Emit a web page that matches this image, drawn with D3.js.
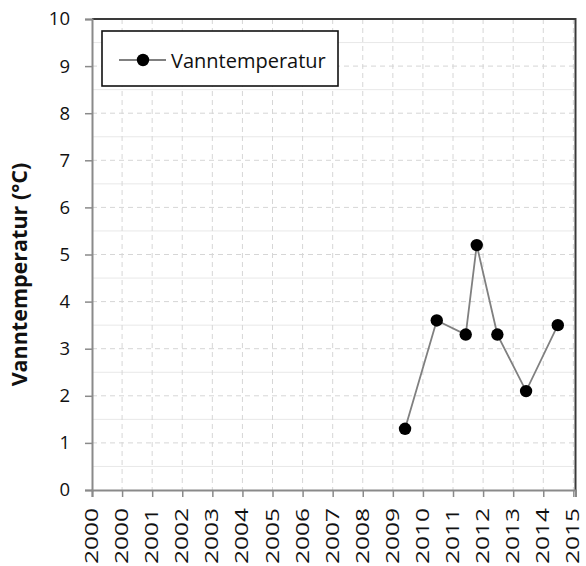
<!DOCTYPE html>
<html>
<head>
<meta charset="utf-8">
<script src="https://cdn.jsdelivr.net/npm/d3@7"></script>
<style>
  html, body { margin: 0; padding: 0; background: #fff; }
  svg { display: block; font-family: "Open Sans", "Liberation Sans", sans-serif; }
</style>
</head>
<body>
<svg id="chart" width="586" height="566"></svg>
<script>
// ---- data ----
const seriesName = "Vanntemperatur";
const yTitle = "Vanntemperatur (°C)";
const sampleDates = ["2009-12-21", "2010-12-25", "2011-11-27", "2012-04-03", "2012-11-29", "2013-10-29", "2014-11-02"];
const temperatures = [1.3, 3.6, 3.3, 5.2, 3.3, 2.1, 3.5];
const xTickLabels = ["2000", "2000", "2001", "2002", "2003", "2004", "2005", "2006", "2007", "2008", "2009", "2010", "2011", "2012", "2013", "2014", "2015"];
const yTicks = [0, 1, 2, 3, 4, 5, 6, 7, 8, 9, 10];
const yMinor = [0.5, 1.5, 2.5, 3.5, 4.5, 5.5, 6.5, 7.5, 8.5, 9.5];
const axisStart = "2000-01-01";
const tickStepDays = 350;
const axisSpanDays = 5625;

// ---- layout ----
const pL = 92, pR = 575.5, pT = 19, pB = 490;
const parse = d3.utcParse("%Y-%m-%d");
const t0 = parse(axisStart);
const t1 = d3.utcDay.offset(t0, axisSpanDays);
const x = d3.scaleUtc().domain([t0, t1]).range([pL, pR]);
const y = d3.scaleLinear().domain([0, 10]).range([pB, pT]);
const xTickDates = xTickLabels.map((_, i) => d3.utcDay.offset(t0, i * tickStepDays));

const svg = d3.select("#chart");

// grid
const grid = svg.append("g");
grid.selectAll("line.minor").data(yMinor).join("line")
  .attr("x1", pL).attr("x2", pR)
  .attr("y1", d => y(d)).attr("y2", d => y(d))
  .attr("stroke", "#e8e8e8").attr("stroke-width", 1);
grid.selectAll("line.hmaj").data(yTicks.slice(1)).join("line")
  .attr("x1", pL).attr("x2", pR)
  .attr("y1", d => y(d)).attr("y2", d => y(d))
  .attr("stroke", "#d6d6d6").attr("stroke-width", 1).attr("stroke-dasharray", "5,4");
grid.selectAll("line.vmaj").data(xTickDates.slice(1)).join("line")
  .attr("x1", d => x(d)).attr("x2", d => x(d))
  .attr("y1", pT).attr("y2", pB)
  .attr("stroke", "#d6d6d6").attr("stroke-width", 1).attr("stroke-dasharray", "5,4");

// plot border (top/right)
svg.append("path")
  .attr("d", `M${pL},${pT}H${pR}V${pB}`)
  .attr("fill", "none").attr("stroke", "#3a3a3a").attr("stroke-width", 2);

// y axis
const yAxis = svg.append("g").attr("transform", `translate(${pL},0)`)
  .call(d3.axisLeft(y).tickValues(yTicks).tickSize(7).tickPadding(15).tickFormat(d3.format("d")));
yAxis.select(".domain").attr("stroke", "#8a8a8a").attr("stroke-width", 2);
yAxis.selectAll(".tick line").attr("stroke", "#8a8a8a").attr("stroke-width", 1.5);
yAxis.selectAll(".tick text").attr("font-size", 18.5).attr("fill", "#111")
  .attr("font-family", "'Open Sans', sans-serif");

// x axis
const xAxis = svg.append("g").attr("transform", `translate(0,${pB})`)
  .call(d3.axisBottom(x).tickValues(xTickDates).tickSize(7).tickFormat((d, i) => xTickLabels[i]));
xAxis.select(".domain").attr("stroke", "#8a8a8a").attr("stroke-width", 2);
xAxis.selectAll(".tick line").attr("stroke", "#8a8a8a").attr("stroke-width", 1.5);
xAxis.selectAll(".tick text")
  .attr("font-size", 17.5).attr("fill", "#111")
  .attr("font-family", "'Open Sans', sans-serif")
  .attr("text-anchor", "end")
  .attr("dy", null)
  .attr("y", 0)
  .attr("dominant-baseline", "central")
  .attr("transform", "translate(-1.5,18) rotate(-90)")
  .attr("textLength", 56).attr("lengthAdjust", "spacingAndGlyphs");

// y title
svg.append("text")
  .attr("transform", `translate(27,${(pT + pB) / 2 + 20}) rotate(-90)`)
  .attr("text-anchor", "middle")
  .attr("font-size", 21.5).attr("font-weight", "bold").attr("fill", "#111")
  .text(yTitle);

// line + markers
const pts = sampleDates.map((d, i) => ({ date: parse(d), v: temperatures[i] }));
svg.append("path").datum(pts)
  .attr("fill", "none").attr("stroke", "#808080").attr("stroke-width", 1.8)
  .attr("d", d3.line().x(d => x(d.date)).y(d => y(d.v)));
svg.selectAll("circle.pt").data(pts).join("circle")
  .attr("cx", d => x(d.date)).attr("cy", d => y(d.v)).attr("r", 6.2).attr("fill", "#000");

// legend
const lg = svg.append("g");
lg.append("rect").attr("x", 102).attr("y", 31).attr("width", 236).attr("height", 55)
  .attr("fill", "#fff").attr("stroke", "#111").attr("stroke-width", 1.6);
lg.append("line").attr("x1", 119).attr("x2", 166).attr("y1", 60).attr("y2", 60)
  .attr("stroke", "#808080").attr("stroke-width", 1.8);
lg.append("circle").attr("cx", 143).attr("cy", 60).attr("r", 6.2).attr("fill", "#000");
lg.append("text").attr("x", 171).attr("y", 60).attr("dominant-baseline", "central")
  .attr("font-size", 20).attr("fill", "#111").text(seriesName);
</script>
</body>
</html>
